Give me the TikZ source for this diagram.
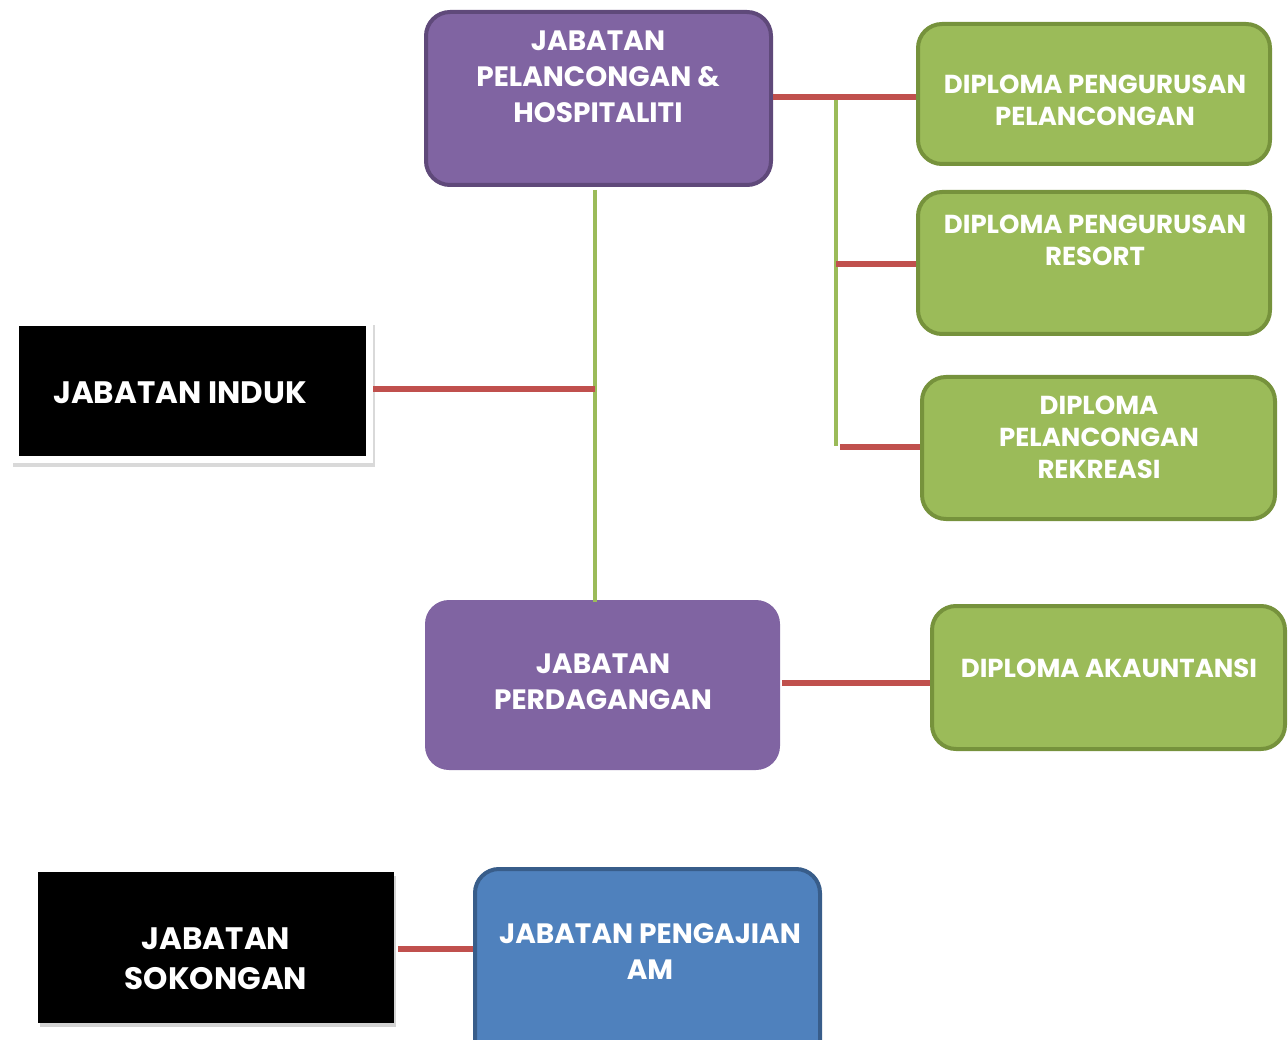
\documentclass[tikz,border=0pt]{standalone}
\usepackage{fontspec}
\setmainfont{Poppins}
\usetikzlibrary{shadows}
\definecolor{purp}{HTML}{8064A2}
\definecolor{purpd}{HTML}{5F497A}
\definecolor{grn}{HTML}{9BBB59}
\definecolor{grnd}{HTML}{76923C}
\definecolor{blu}{HTML}{4F81BD}
\definecolor{blud}{HTML}{385D8A}
\definecolor{redl}{HTML}{C0504D}
\tikzset{
  x=1pt,y=-1pt,
  rbox/.style={rectangle, rounded corners=24pt, line width=4pt, inner sep=0pt},
  purpbox/.style={rbox, fill=purp, draw=purpd},
  purpflat/.style={rbox, fill=purp},
  grnbox/.style={rbox, fill=grn, draw=grnd},
  blubox/.style={rbox, fill=blu, draw=blud},
  blkbox/.style={rectangle, fill=black, inner sep=0pt, drop shadow={shadow xshift=2pt, shadow yshift=-4pt, opacity=0.35}},
  txt/.style={text=white, font=\bfseries\fontsize{26}{32}\selectfont, align=center, inner sep=0pt},
  bigtxt/.style={txt, font=\bfseries\fontsize{28}{36}\selectfont},
  redline/.style={draw=redl, line width=6pt},
  grnline/.style={draw=grn, line width=4pt},
}
\begin{document}
\begin{tikzpicture}
\useasboundingbox (0,0) rectangle (1288,1040);
% boxes
\node[purpbox, minimum width=345, minimum height=173] (a) at (598.5,98.5) {};
\node[purpflat, minimum width=355, minimum height=170] (b) at (602.5,685) {};
\node[grnbox, minimum width=352, minimum height=140] (d1) at (1094,94) {};
\node[grnbox, minimum width=352, minimum height=142] (d2) at (1094,263) {};
\node[grnbox, minimum width=353, minimum height=142] (d3) at (1098.5,448) {};
\node[grnbox, minimum width=353, minimum height=143] (d4) at (1108.5,677.5) {};
\node[blubox, minimum width=345, minimum height=200] (c) at (647.5,969) {};
\node[rectangle, fill=white, inner sep=0pt, minimum width=362, minimum height=142,
      drop shadow={shadow xshift=2pt, shadow yshift=-4pt, opacity=0.3}] (ib) at (192,392) {};
\node[rectangle, fill=black, inner sep=0pt, minimum width=347, minimum height=130] (induk) at (192.5,391) {};
\node[blkbox, minimum width=356, minimum height=151] (sok) at (216,947.5) {};
% texts
\node[bigtxt] (at) at (598,77) {JABATAN\\PELANCONGAN \&\\HOSPITALITI};
\node[bigtxt] (bt) at (603,682) {JABATAN\\PERDAGANGAN};
\node[txt] (d1t) at (1095,100) {DIPLOMA PENGURUSAN\\PELANCONGAN};
\node[txt] (d2t) at (1095,240) {DIPLOMA PENGURUSAN\\RESORT};
\node[txt] (d3t) at (1099,437) {DIPLOMA\\PELANCONGAN\\REKREASI};
\node[txt] (d4t) at (1109,668) {DIPLOMA AKAUNTANSI};
\node[bigtxt] (ct) at (650,952) {JABATAN PENGAJIAN\\AM};
\node[txt, font=\bfseries\fontsize{31}{40}\selectfont] (it) at (180,393) {JABATAN INDUK};
\node[txt, font=\bfseries\fontsize{31}{40}\selectfont] (st) at (216,959) {JABATAN\\SOKONGAN};
% connectors
\coordinate (j1) at (836,97);
\coordinate (j2) at (836,264);
\coordinate (j3) at (840,447);
\coordinate (jv) at (836,446);
\coordinate (m) at (595,389);
\draw[grnline] (j1) -- (jv);
\draw[grnline] (a.south -| m) ++(0,3) -- ([yshift=-4pt]b.north -| m);
\draw[redline] (a.east |- j1) -- (d1.west |- j1);
\draw[redline] (j2) -- (d2.west |- j2);
\draw[redline] (j3) -- (d3.west |- j3);
\draw[redline] (ib.east |- m) -- (m);
\draw[redline] (b.east |- 0,683) -- (d4.west |- 0,683);
\draw[redline] (sok.east |- 0,949) ++(4,0) -- (c.west |- 0,949);
\end{tikzpicture}
\end{document}
